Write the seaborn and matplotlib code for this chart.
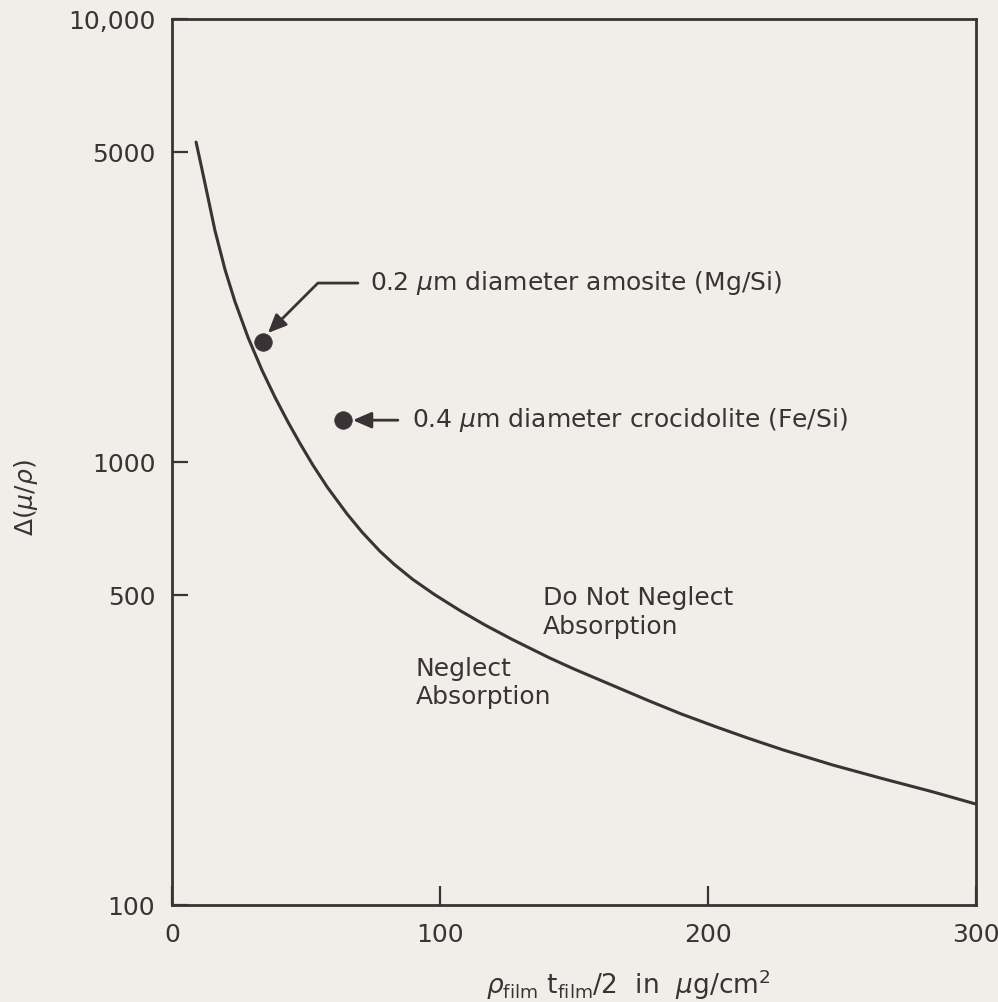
import numpy as np
import pandas as pd
import matplotlib
matplotlib.use("Agg")
import matplotlib.pyplot as plt
import seaborn as sns

# curve (x in ug/cm2, y = delta(mu/rho))
film_thickness = [9, 11.2, 13.4, 16, 19.8, 23.5, 28.4, 33.6, 38.4, 43.3, 47.8, 52.6,
                  58, 65.3, 71, 77.6, 83, 89.9, 98, 107.5, 117, 127.2, 141, 150,
                  159.7, 178, 190, 203.4, 215, 228, 246.6, 265, 284, 300]
delta_mu_rho = [5275, 4580, 3966, 3340, 2719, 2303, 1910, 1612, 1402, 1231, 1101, 984,
                877, 764, 694, 629, 587, 543, 502, 462, 428, 397, 361, 341,
                322, 289, 270, 252, 238, 224, 207, 193, 180, 169]

# measured fibres
fibre_names = ["0.2 $\\mu$m diameter amosite (Mg/Si)",
               "0.4 $\\mu$m diameter crocidolite (Fe/Si)"]
fibre_x = [34, 63.8]
fibre_y = [1866, 1243]

x_ticks = [0, 100, 200, 300]
y_ticks = [100, 500, 1000, 5000, 10000]
y_tick_labels = ["100", "500", "1000", "5000", "10,000"]

ink = "#3a3335"
paper = "#f1ede9"

sns.set_theme(style="ticks", rc={
    "axes.facecolor": paper,
    "figure.facecolor": paper,
    "axes.edgecolor": ink,
    "axes.linewidth": 2.0,
    "xtick.color": ink,
    "ytick.color": ink,
    "text.color": ink,
    "axes.labelcolor": ink,
})
plt.rcParams["font.family"] = ["DejaVu Sans"]
plt.rcParams["mathtext.fontset"] = "dejavusans"

fig = plt.figure(figsize=(9.98, 10.02), dpi=100)
ax = fig.add_axes([0.1723, 0.0968, 0.8056, 0.8842])

curve = pd.DataFrame({"x": film_thickness, "y": delta_mu_rho})
sns.lineplot(data=curve, x="x", y="y", ax=ax, color=ink, linewidth=2.2, sort=False)
sns.scatterplot(x=fibre_x, y=fibre_y, ax=ax, s=160, color=ink, edgecolor=ink,
                linewidth=0.5, zorder=5)

ax.set_yscale("log")
ax.set_xlim(0, 300)
ax.set_ylim(100, 10000)
ax.set_xticks(x_ticks)
ax.set_xticklabels([str(t) for t in x_ticks])
ax.set_yticks(y_ticks)
ax.set_yticklabels(y_tick_labels)
ax.yaxis.set_minor_locator(matplotlib.ticker.NullLocator())
ax.tick_params(axis="both", direction="in", width=1.6, labelsize=18)
ax.tick_params(axis="x", pad=13, length=13.5)
ax.tick_params(axis="y", pad=12, length=11.5)
for side in ["top", "right", "left", "bottom"]:
    ax.spines[side].set_visible(True)

# annotations for the two fibres
head = "-|>,head_length=0.8,head_width=0.35"
ax.annotate("", xy=(35.8, 1955), xytext=(69.4, 2535),
            arrowprops=dict(arrowstyle=head,
                            connectionstyle="angle,angleA=0,angleB=45,rad=0",
                            color=ink, lw=2, shrinkA=0, shrinkB=0, mutation_scale=14))
ax.text(73.9, 2535, fibre_names[0], fontsize=18, va="center", ha="left")

ax.annotate("", xy=(67.5, 1243), xytext=(84.3, 1243),
            arrowprops=dict(arrowstyle=head, color=ink, lw=2,
                            shrinkA=0, shrinkB=0, mutation_scale=14))
ax.text(89.6, 1243, fibre_names[1], fontsize=18, va="center", ha="left")

ax.text(138.4, 458, "Do Not Neglect\nAbsorption", fontsize=18, va="center",
        ha="left", linespacing=1.25)
ax.text(91, 317, "Neglect\nAbsorption", fontsize=18, va="center",
        ha="left", linespacing=1.25)

ax.set_xlabel(r"$\rho_{\rm film}\ {\rm t}_{\rm film}/2\ \ {\rm in}\ \ \mu{\rm g/cm}^2$",
              fontsize=19, va="center", ha="center")
ax.xaxis.set_label_coords(0.568, -0.0903)
ax.set_ylabel(r"$\Delta(\mu/\rho)$", fontsize=18, rotation=90, va="center", ha="center")
ax.yaxis.set_label_coords(-0.1816, 0.46)

fig.savefig("out.png", dpi=100, facecolor=paper)
